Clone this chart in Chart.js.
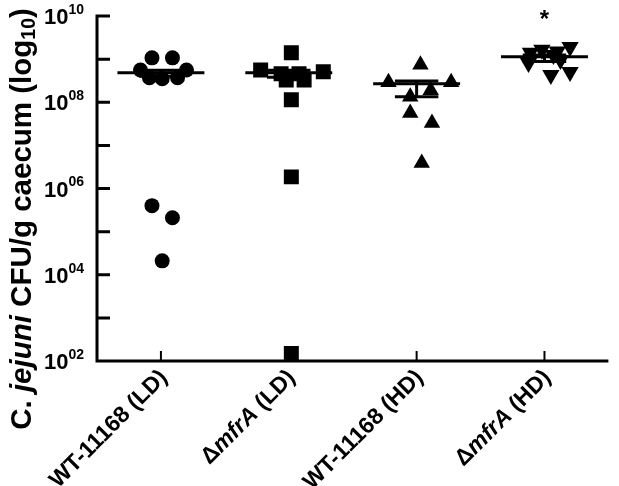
<!DOCTYPE html>
<html>
<head>
<meta charset="utf-8">
<script src="https://cdn.jsdelivr.net/npm/chart.js@4.4.1/dist/chart.umd.min.js"></script>
<style>
  html, body { margin: 0; padding: 0; background: #fff; }
  #wrap { width: 619px; height: 486px; position: relative; }
</style>
</head>
<body>
<div id="wrap"><canvas id="chart"></canvas></div>
<script>
// groups on the x axis
const groups = ['WT-11168 (LD)', '\u0394mfrA (LD)', 'WT-11168 (HD)', '\u0394mfrA (HD)'];
const italicTerms = ['mfrA'];
const significance = ['', '', '', '*'];

// CFU/g caecum per bird
const wtLD   = [1.07e9, 1.07e9, 5.6e8, 5.6e8, 3.7e8, 3.5e8, 3.7e8, 4.0e5, 2.1e5, 2.1e4];
const mfrALD = [1.4e9, 5.6e8, 5.1e8, 4.6e8, 4.6e8, 3.3e8, 3.3e8, 1.15e8, 1.86e6, 1.5e2];
const wtHD   = [7.4e8, 2.9e8, 2.9e8, 1.35e8, 1.9e8, 5.6e7, 3.3e7, 3.9e6];
const mfrAHD = [1.65e9, 1.4e9, 1.9e9, 8.1e8, 4.3e8, 5.0e8, 1.25e9, 9.6e8, 1.5e9];

// horizontal scatter of the dots inside each column (category units)
const wtLDJitter   = [-0.07, 0.09, -0.16, 0.2, -0.09, 0.01, 0.13, -0.07, 0.09, 0.01];
const mfrALDJitter = [0.02, -0.22, 0.27, -0.06, 0.08, -0.02, 0.12, 0.02, 0.02, 0.02];
const wtHDJitter   = [0.03, -0.22, 0.27, -0.05, 0.11, -0.05, 0.12, 0.04];
const mfrAHDJitter = [-0.02, -0.11, 0.2, -0.125, 0.05, 0.2, 0.07, 0.125, 0.1];

// median line and error bars per group
const medians = [4.8e8, 4.8e8, 2.7e8, 1.13e9];
const upperBars = [5.5e8, 5.5e8, 3.1e8, 1.25e9];
const lowerBars = [4.0e8, 3.8e8, 1.35e8, 8.8e8];

// y axis ticks
const yTicks = [1e2, 1e3, 1e4, 1e5, 1e6, 1e7, 1e8, 1e9, 1e10];
const yLabelTicks = [1e2, 1e4, 1e6, 1e8, 1e10];

const FONT = "'Liberation Sans', Arial, sans-serif";

function toPoints(values, jitter, idx) {
    return values.map((v, i) => ({ x: idx + jitter[i], y: v }));
}

const markers = [
    { data: wtLD, jitter: wtLDJitter, style: 'circle', radius: 7.5, rotation: 0 },
    { data: mfrALD, jitter: mfrALDJitter, style: 'rect', radius: 10.6, rotation: 0 },
    { data: wtHD, jitter: wtHDJitter, style: 'triangle', radius: 9.5, rotation: 0 },
    { data: mfrAHD, jitter: mfrAHDJitter, style: 'triangle', radius: 10, rotation: 180 }
];

const datasets = [];
markers.forEach((m, idx) => {
    datasets.push({
        type: 'scatter',
        label: groups[idx],
        data: toPoints(m.data, m.jitter, idx),
        pointStyle: m.style,
        pointRadius: m.radius,
        pointRotation: m.rotation,
        backgroundColor: '#000',
        borderWidth: 0,
        order: 2
    });
});

function segment(points, width) {
    return {
        type: 'line',
        data: points,
        borderColor: '#000',
        borderWidth: width,
        pointRadius: 0,
        borderCapStyle: 'butt',
        order: 1
    };
}

const halfMedian = 0.34;
const halfCap = 0.17;
groups.forEach((g, i) => {
    datasets.push(segment([{ x: i - halfMedian, y: medians[i] }, { x: i + halfMedian, y: medians[i] }], 3));
    datasets.push(segment([{ x: i, y: lowerBars[i] }, { x: i, y: upperBars[i] }], 3));
    datasets.push(segment([{ x: i - halfCap, y: upperBars[i] }, { x: i + halfCap, y: upperBars[i] }], 3));
    datasets.push(segment([{ x: i - halfCap, y: lowerBars[i] }, { x: i + halfCap, y: lowerBars[i] }], 3));
});

function splitItalic(text) {
    const re = new RegExp('(' + italicTerms.join('|') + ')');
    return text.split(re).filter(s => s.length).map(s => ({ text: s, italic: italicTerms.includes(s) }));
}

const axesDecor = {
    id: 'axesDecor',
    afterDatasetsDraw(chart) {
        const { ctx, chartArea, scales } = chart;
        const xs = scales.x, ys = scales.y;
        const left = chartArea.left, bottom = chartArea.bottom, right = chartArea.right;
        const top = ys.getPixelForValue(1e10);
        ctx.save();
        ctx.strokeStyle = '#000';
        ctx.fillStyle = '#000';
        ctx.lineWidth = 3;
        ctx.lineCap = 'butt';

        // y axis line and inward ticks
        ctx.beginPath();
        ctx.moveTo(left, top - 1.5);
        ctx.lineTo(left, bottom + 1.5);
        yTicks.forEach(t => {
            const y = ys.getPixelForValue(t);
            ctx.moveTo(left, y);
            ctx.lineTo(left + 13, y);
        });
        // x axis line and inward ticks
        ctx.moveTo(left - 1.5, bottom);
        ctx.lineTo(right, bottom);
        ctx.stroke();
        ctx.lineWidth = 2;
        ctx.beginPath();
        groups.forEach((g, i) => {
            const x = xs.getPixelForValue(i);
            ctx.moveTo(x, bottom);
            ctx.lineTo(x, bottom - 10);
        });
        ctx.stroke();

        // y tick labels 10^nn
        ctx.textBaseline = 'middle';
        yLabelTicks.forEach(t => {
            const y = ys.getPixelForValue(t);
            const exp = String(Math.round(Math.log10(t))).padStart(2, '0');
            ctx.font = 'bold 14px ' + FONT;
            const ew = ctx.measureText(exp).width;
            const xEnd = left - 13;
            ctx.textAlign = 'right';
            ctx.fillText(exp, xEnd, y - 6);
            ctx.font = 'bold 22px ' + FONT;
            ctx.fillText('10', xEnd - ew, y + 2);
        });

        // x tick labels, rotated
        groups.forEach((g, i) => {
            const x = xs.getPixelForValue(i);
            const parts = splitItalic(g);
            ctx.save();
            ctx.translate(x + 3, bottom + 13);
            ctx.rotate(-Math.PI / 4);
            ctx.textAlign = 'left';
            ctx.textBaseline = 'middle';
            let widths = parts.map(p => {
                ctx.font = (p.italic ? 'italic ' : '') + 'bold 23px ' + FONT;
                return ctx.measureText(p.text).width;
            });
            let cx = -widths.reduce((a, b) => a + b, 0);
            parts.forEach((p, k) => {
                ctx.font = (p.italic ? 'italic ' : '') + 'bold 23px ' + FONT;
                ctx.fillText(p.text, cx, 0);
                cx += widths[k];
            });
            ctx.restore();
        });

        // y axis title
        const titleParts = [
            { text: 'C. ', font: 'bold 29.5px ' + FONT, dy: 0 },
            { text: 'jejuni', font: 'italic bold 29.5px ' + FONT, dy: 0 },
            { text: ' CFU/g caecum (log', font: 'bold 29.5px ' + FONT, dy: 0 },
            { text: '10', font: 'bold 19.5px ' + FONT, dy: 7 },
            { text: ')', font: 'bold 29.5px ' + FONT, dy: 0 }
        ];
        ctx.save();
        ctx.translate(23, 219);
        ctx.rotate(-Math.PI / 2);
        ctx.textAlign = 'left';
        ctx.textBaseline = 'middle';
        const tw = titleParts.map(p => { ctx.font = p.font; return ctx.measureText(p.text).width; });
        let tx = -tw.reduce((a, b) => a + b, 0) / 2;
        titleParts.forEach((p, k) => {
            ctx.font = p.font;
            ctx.fillText(p.text, tx, p.dy);
            tx += tw[k];
        });
        ctx.restore();

        // significance marks
        ctx.font = 'bold 24px ' + FONT;
        ctx.textAlign = 'center';
        ctx.textBaseline = 'middle';
        significance.forEach((s, i) => {
            if (s) ctx.fillText(s, xs.getPixelForValue(i), top + 4);
        });
        ctx.restore();
    }
};

new Chart(document.getElementById('chart'), {
    data: { datasets: datasets },
    options: {
        responsive: true,
        maintainAspectRatio: false,
        animation: false,
        layout: { padding: { left: 97, right: 9, top: 16, bottom: 125 } },
        plugins: { legend: { display: false }, tooltip: { enabled: false } },
        scales: {
            x: { type: 'linear', min: -0.5, max: 3.5, display: false },
            y: { type: 'logarithmic', min: 1e2, max: 1e10, display: false }
        }
    },
    plugins: [axesDecor]
});
</script>
</body>
</html>
